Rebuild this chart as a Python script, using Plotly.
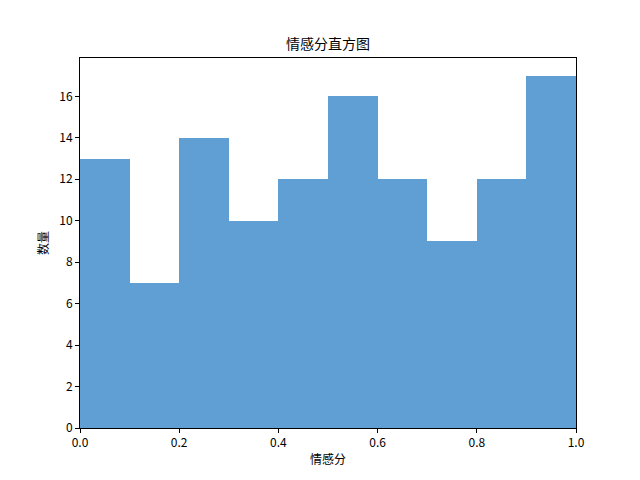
import numpy as np
import plotly.graph_objects as go

# histogram data
bin_edges = [0.0, 0.1, 0.2, 0.3, 0.4, 0.5, 0.6, 0.7, 0.8, 0.9, 1.0]
counts = [13, 7, 14, 10, 12, 16, 12, 9, 12, 17]
x_ticks = [0.0, 0.2, 0.4, 0.6, 0.8, 1.0]
y_ticks = [0, 2, 4, 6, 8, 10, 12, 14, 16]

edges = np.array(bin_edges)
centers = (edges[:-1] + edges[1:]) / 2
widths = np.diff(edges)

font = "SimHei, 'Noto Sans CJK SC', 'DejaVu Sans', sans-serif"

fig = go.Figure()
fig.add_trace(go.Bar(
    x=centers, y=counts, width=widths,
    marker=dict(color="#5f9fd3", line=dict(width=0)),
    showlegend=False,
))

# page body adds an 8px offset, margins compensate for it
fig.update_layout(
    width=640, height=480,
    margin=dict(l=72, r=72, t=50, b=60),
    paper_bgcolor="white", plot_bgcolor="white",
    bargap=0,
    font=dict(family=font, size=12, color="black"),
    title=dict(text="情感分直方图", x=0.5, xanchor="center",
               y=1 - 36 / 480, yanchor="middle",
               font=dict(size=14)),
    xaxis=dict(
        range=[0, 1], tickvals=x_ticks,
        ticktext=[f"{v:.1f}" for v in x_ticks],
        ticks="outside", ticklen=4, tickcolor="black",
        showline=True, linecolor="black", linewidth=1, mirror=True,
        showgrid=False, zeroline=False, automargin=False,
        title=dict(text="情感分", standoff=6, font=dict(size=12)),
    ),
    yaxis=dict(
        range=[0, 17.85], tickvals=y_ticks,
        ticks="outside", ticklen=4, tickcolor="black",
        showline=True, linecolor="black", linewidth=1, mirror=True,
        showgrid=False, zeroline=False, automargin=False,
        title=dict(text="数量", standoff=8, font=dict(size=12)),
    ),
)

fig.write_html("out.html")
